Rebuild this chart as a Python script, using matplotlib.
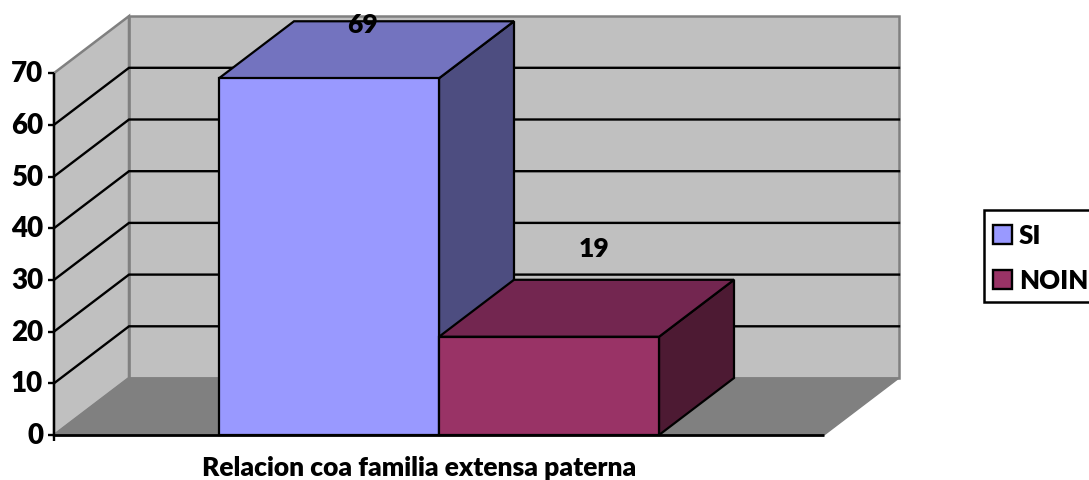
import matplotlib
matplotlib.use("Agg")
import matplotlib.pyplot as plt
from matplotlib.patches import Polygon, Rectangle

series = ["SI", "NOIN"]
values = [69, 19]
colors = ["#9999FF", "#993366"]
top_colors = ["#7373BF", "#732650"]
side_colors = ["#4D4D80", "#4D1A33"]
yticks = [0, 10, 20, 30, 40, 50, 60, 70]
xlabel = "Relacion coa familia extensa paterna"

FONT = "Lato"
WEIGHT = "heavy"
W, H = 1089, 481
PX = 5.17          # pixels per value unit
BASE = 436         # pixel row of value 0
DX, DY = 75, 57 / PX
X0, X1 = 54, 824
BAR_X, BAR_W = 219, 220
YMAX = 70

fig = plt.figure(figsize=(W / 100, H / 100), dpi=100)
ax = fig.add_axes([0, 0, 1, 1])
ax.set_xlim(0, W)
ax.set_ylim(-(H - BASE) / PX, BASE / PX)
ax.axis("off")

def ypx(p):
    return (BASE - p) / PX

def poly(pts, fc, ec, lw, z):
    ax.add_patch(Polygon(pts, closed=True, fc=fc, ec=ec, lw=lw, zorder=z, joinstyle="miter"))

# walls and floor
poly([(X0 + DX, DY), (X1 + DX, DY), (X1 + DX, YMAX + DY), (X0 + DX, YMAX + DY)], "#C0C0C0", "#808080", 1.8, 1)
poly([(X0, 0), (X0 + DX, DY), (X0 + DX, YMAX + DY), (X0, YMAX)], "#C0C0C0", "#808080", 1.8, 1)
poly([(X0, 0), (X1, 0), (X1 + DX, DY), (X0 + DX, DY)], "#808080", "#808080", 1.0, 1)

# gridlines
for v in yticks[1:-1]:
    ax.plot([X0, X0 + DX, X1 + DX], [v, v + DY, v + DY], color="black", lw=1.7, zorder=2,
            solid_joinstyle="miter")

# bars
EDGE = 1.6
for i, v in enumerate(values):
    x = BAR_X + i * BAR_W
    poly([(x + BAR_W, 0), (x + BAR_W + DX, DY), (x + BAR_W + DX, v + DY), (x + BAR_W, v)],
         side_colors[i], "black", EDGE, 3 + i)
    poly([(x, v), (x + BAR_W, v), (x + BAR_W + DX, v + DY), (x + DX, v + DY)],
         top_colors[i], "black", EDGE, 3 + i)
    poly([(x, 0), (x + BAR_W, 0), (x + BAR_W, v), (x, v)], colors[i], "black", EDGE, 3 + i)

# axis lines and ticks
ax.plot([X0, X1], [0, 0], color="black", lw=2.0, zorder=6, solid_capstyle="butt")
ax.plot([X0, X0], [-6 / PX, YMAX], color="black", lw=1.7, zorder=6, solid_capstyle="butt")
for v in yticks:
    ax.plot([X0 - 6, X0], [v, v], color="black", lw=1.7, zorder=6, solid_capstyle="butt")
    ax.text(X0 - 11, v, str(v), ha="right", va="center", fontsize=20, fontweight=WEIGHT,
            family=FONT, color="black", zorder=7)

# value labels
label_x = [362, 594]
label_y = [ypx(25), ypx(249)]
for x, y, v in zip(label_x, label_y, values):
    ax.text(x, y, str(v), ha="center", va="center", fontsize=19, fontweight=WEIGHT,
            family=FONT, color="black", zorder=8)

ax.text(419, ypx(468.5), xlabel, ha="center", va="center", fontsize=19, fontweight=WEIGHT,
        family=FONT, color="black", zorder=7)

# legend
ax.add_patch(Rectangle((984, ypx(303)), 120, ypx(211) - ypx(303), fc="white", ec="black", lw=1.8, zorder=7))
for name, c, top in zip(series, colors, [226, 271]):
    ax.add_patch(Rectangle((993, ypx(top + 19)), 19, 19 / PX, fc=c, ec="black", lw=1.7, zorder=8))
    ax.text(1019, ypx(top + 10), name, ha="left", va="center", fontsize=18.5, fontweight=WEIGHT,
            family=FONT, color="black", zorder=8, clip_on=True)

fig.savefig("out.png", dpi=100, facecolor="white")
